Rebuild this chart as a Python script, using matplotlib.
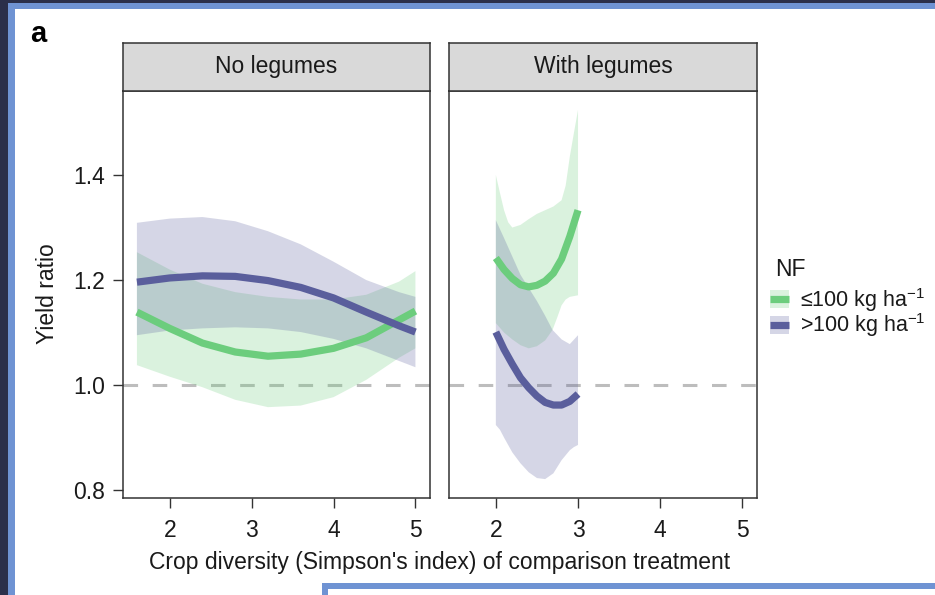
import matplotlib.pyplot as plt
from matplotlib.patches import Rectangle

plt.rcParams['font.family'] = ['Liberation Sans', 'DejaVu Sans']
plt.rcParams['mathtext.fontset'] = 'custom'
plt.rcParams['mathtext.rm'] = 'Liberation Sans'
plt.rcParams['mathtext.it'] = 'Liberation Sans:italic'
plt.rcParams['mathtext.bf'] = 'Liberation Sans:bold'
plt.rcParams['lines.scale_dashes'] = False

W, H = 935, 595
GREEN = '#6ccd7d'
BLUE = '#5a5e9c'
BAND_ALPHA = 0.25
FS = 16.5
LW = 5.2

panel_titles = ['No legumes', 'With legumes']
legend_title = 'NF'
legend_labels = ['≤100 kg ha$^{-1}$', '>100 kg ha$^{-1}$']
x_ticks = [2, 3, 4, 5]
y_ticks = [0.8, 1.0, 1.2, 1.4]

# No legumes panel
nl_x = [1.6, 2.0, 2.4, 2.8, 3.2, 3.6, 4.0, 4.4, 4.8, 5.0]
nl_low_fit = [1.139, 1.108, 1.080, 1.063, 1.055, 1.059, 1.070, 1.090, 1.124, 1.141]
nl_low_upper = [1.253, 1.220, 1.193, 1.177, 1.168, 1.163, 1.163, 1.172, 1.197, 1.217]
nl_low_lower = [1.038, 1.016, 0.996, 0.972, 0.958, 0.961, 0.977, 1.010, 1.052, 1.070]
nl_high_fit = [1.196, 1.204, 1.208, 1.207, 1.199, 1.186, 1.166, 1.139, 1.113, 1.101]
nl_high_upper = [1.309, 1.317, 1.320, 1.312, 1.293, 1.268, 1.235, 1.200, 1.177, 1.168]
nl_high_lower = [1.095, 1.104, 1.108, 1.110, 1.108, 1.101, 1.088, 1.070, 1.046, 1.034]

# With legumes panel
wl_x = [2.0, 2.1, 2.2, 2.3, 2.4, 2.5, 2.6, 2.7, 2.8, 2.9, 3.0]
wl_low_fit = [1.242, 1.220, 1.203, 1.191, 1.187, 1.190, 1.198, 1.213, 1.240, 1.283, 1.333]
wl_high_fit = [1.101, 1.068, 1.040, 1.014, 0.995, 0.979, 0.967, 0.962, 0.962, 0.969, 0.983]

wl_low_up_x = [2.0, 2.05, 2.1, 2.15, 2.2, 2.3, 2.4, 2.5, 2.6, 2.7, 2.8, 2.85, 2.9, 2.95, 3.0]
wl_low_upper = [1.400, 1.366, 1.333, 1.310, 1.300, 1.305, 1.316, 1.326, 1.333, 1.340, 1.352, 1.380, 1.435, 1.480, 1.524]
wl_low_lo_x = [2.0, 2.1, 2.2, 2.3, 2.4, 2.5, 2.6, 2.69, 2.75, 2.8, 2.85, 2.9, 3.0]
wl_low_lower = [1.118, 1.100, 1.087, 1.076, 1.070, 1.074, 1.085, 1.105, 1.130, 1.152, 1.163, 1.168, 1.171]

wl_high_up_x = [2.0, 2.1, 2.2, 2.3, 2.4, 2.5, 2.6, 2.69, 2.8, 2.9, 3.0]
wl_high_upper = [1.314, 1.280, 1.245, 1.210, 1.185, 1.160, 1.132, 1.105, 1.087, 1.078, 1.095]
wl_high_lo_x = [2.0, 2.05, 2.1, 2.2, 2.3, 2.4, 2.5, 2.6, 2.7, 2.8, 2.9, 2.95, 3.0]
wl_high_lower = [0.924, 0.915, 0.900, 0.872, 0.851, 0.834, 0.823, 0.821, 0.832, 0.857, 0.876, 0.882, 0.886]


def px_axes(fig, x0, y0, x1, y1, **kw):
    return fig.add_axes([x0 / W, 1 - y1 / H, (x1 - x0) / W, (y1 - y0) / H], **kw)


def band(ax, xs_up, up, xs_lo, lo, color):
    poly_x = list(xs_up) + list(reversed(xs_lo))
    poly_y = list(up) + list(reversed(lo))
    ax.fill(poly_x, poly_y, color=color, alpha=BAND_ALPHA, lw=0, zorder=2)


def style_panel(ax, show_y):
    ax.set_xlim(1.43, 5.178)
    ax.set_ylim(0.785, 1.56)
    ax.set_xticks(x_ticks)
    ax.set_yticks(y_ticks)
    ax.set_yticklabels([f'{v:.1f}' for v in y_ticks])
    ax.tick_params(direction='out', length=7, width=1, color='#333333',
                   labelsize=FS, labelcolor='#1a1a1a', pad=6)
    ax.tick_params(axis='x', pad=8)
    if not show_y:
        ax.tick_params(axis='y', left=False, labelleft=False)
    for s in ax.spines.values():
        s.set_color('#333333')
        s.set_linewidth(1.1)
    ax.axhline(1.0, color='#bdbdbd', lw=2.2, dashes=(10.5, 10.5), zorder=1)


def strip(fig, x0, x1, title):
    s = px_axes(fig, x0, 43, x1, 91)
    s.set_facecolor('#d9d9d9')
    s.set_xticks([])
    s.set_yticks([])
    for sp in s.spines.values():
        sp.set_color('#333333')
        sp.set_linewidth(1.1)
    s.text(0.5, 0.5, title, ha='center', va='center', fontsize=FS,
           color='#1a1a1a', transform=s.transAxes)


fig = plt.figure(figsize=(W / 100, H / 100), dpi=100)
fig.patch.set_facecolor('#2b2f4a')

# screenshot frame behind everything
bg = fig.add_axes([0, 0, 1, 1], zorder=-10)
bg.set_xlim(0, W)
bg.set_ylim(H, 0)
bg.axis('off')
bg.add_patch(Rectangle((8, 3), W, H, fc='#6f93d3', lw=0))
bg.add_patch(Rectangle((14.5, 9), W, H, fc='white', lw=0))
bg.add_patch(Rectangle((322, 583), W, 20, fc='#6f93d3', lw=0))
bg.add_patch(Rectangle((328, 588.5), W, 20, fc='white', lw=0))

ax1 = px_axes(fig, 123, 91, 430, 498)
ax2 = px_axes(fig, 449, 91, 757, 498)

band(ax1, nl_x, nl_low_upper, nl_x, nl_low_lower, GREEN)
band(ax1, nl_x, nl_high_upper, nl_x, nl_high_lower, BLUE)
ax1.plot(nl_x, nl_low_fit, color=GREEN, lw=LW, solid_capstyle='butt',
         solid_joinstyle='round', zorder=3)
ax1.plot(nl_x, nl_high_fit, color=BLUE, lw=LW, solid_capstyle='butt',
         solid_joinstyle='round', zorder=3)

band(ax2, wl_low_up_x, wl_low_upper, wl_low_lo_x, wl_low_lower, GREEN)
band(ax2, wl_high_up_x, wl_high_upper, wl_high_lo_x, wl_high_lower, BLUE)
ax2.plot(wl_x, wl_low_fit, color=GREEN, lw=LW, solid_capstyle='butt',
         solid_joinstyle='round', zorder=3)
ax2.plot(wl_x, wl_high_fit, color=BLUE, lw=LW, solid_capstyle='butt',
         solid_joinstyle='round', zorder=3)

style_panel(ax1, True)
style_panel(ax2, False)

strip(fig, 123, 430, panel_titles[0])
strip(fig, 449, 757, panel_titles[1])

fig.text(440 / W, 1 - 563 / H, "Crop diversity (Simpson's index) of comparison treatment",
         ha='center', va='center', fontsize=FS, color='#1a1a1a')
fig.text(48 / W, 1 - 294 / H, 'Yield ratio', rotation=90, ha='center', va='center',
         fontsize=FS, color='#1a1a1a')
fig.text(30 / W, 1 - 42 / H, 'a', fontsize=21, weight='bold', ha='left', va='baseline')

# legend
bg.text(775, 269, legend_title, ha='left', va='center', fontsize=FS, color='#1a1a1a')
for i, (c, lab) in enumerate(zip([GREEN, BLUE], legend_labels)):
    y0 = 290 + i * 25.5
    bg.add_patch(Rectangle((770, y0), 19, 18, fc=c, alpha=BAND_ALPHA, lw=0))
    bg.plot([770, 789], [y0 + 9, y0 + 9], color=c, lw=LW, solid_capstyle='butt')
    bg.text(800, y0 + 10, lab, ha='left', va='center', fontsize=15.5, color='#1a1a1a')

fig.savefig('out.png', dpi=100, facecolor=fig.get_facecolor())
